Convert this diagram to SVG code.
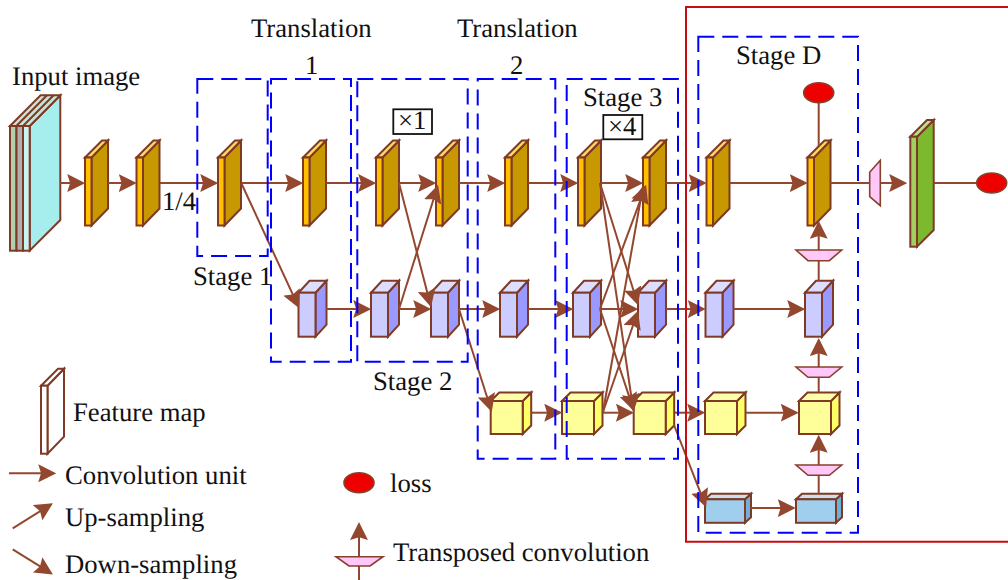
<svg xmlns="http://www.w3.org/2000/svg" width="1008" height="580" viewBox="0 0 1008 580">
<style>
text{font-family:"Liberation Serif","Times New Roman",serif;font-size:26.7px;fill:#111;text-rendering:geometricPrecision}
.s{stroke:#7f3a25;stroke-width:2;stroke-linejoin:miter}
.c{fill:none;stroke:#94472f;stroke-width:2}
.a{marker-end:url(#h)}
.f{fill:none;stroke:#0000ff;stroke-width:2;stroke-dasharray:16 8}
.l{fill:#ee0000;stroke:#86402c;stroke-width:1.6}
.t{fill:#ffc8f8;stroke:#86402c;stroke-width:1.6}
.b{fill:#fff;stroke:#111;stroke-width:1.8}
</style>
<defs>
<marker id="h" markerUnits="userSpaceOnUse" markerWidth="18" markerHeight="18" refX="14" refY="8" orient="auto" viewBox="0 0 16 16"><path d="M0,0 L16,8 L0,16 L2.5,8 Z" fill="#94472f"/></marker>
<g id="plate" class="s"><polygon points="6.5,0 23,-17 23,51 6.5,68" fill="#c89800"/><polygon points="0,0 17,-17 23,-17 6.5,0" fill="#ffd966"/><rect width="6.5" height="68" fill="#ffc000"/></g>
<g id="blue" class="s"><polygon points="17,0 28,-12 28,32 17,44" fill="#9999ff"/><polygon points="0,0 11,-12 28,-12 17,0" fill="#ddddff"/><rect width="17" height="44" fill="#ccccff"/></g>
<g id="yellow" class="s"><polygon points="32,0 40.5,-8.5 40.5,24.5 32,33" fill="#ffff66"/><polygon points="0,0 8.5,-8.5 40.5,-8.5 32,0" fill="#ffffaa"/><rect width="32" height="33" fill="#ffff99"/></g>
<g id="sky" class="s"><polygon points="40,0 46,-5.5 46,18 40,23.5" fill="#70b0d8"/><polygon points="0,0 6,-5.5 46,-5.5 40,0" fill="#c8e0f0"/><rect width="40" height="23.5" fill="#a0cfee"/></g>
</defs>
<g id="input-image" class="s"><polygon points="29.7,126 60.3,95.3 60.3,220 29.7,250.7" fill="#a6eeee"/><polygon points="10,126 40.6,95.3 60.3,95.3 29.7,126" fill="#c8e4d8"/><path d="M16.3,126 L47,95.3 M23,126 L53.6,95.3" fill="none"/><rect x="10" y="126" width="6.5" height="124.700" fill="#b0d0b0"/><rect x="16.500" y="126" width="6.500" height="124.700" fill="#b0b0b0"/><rect x="23" y="126" width="6.700" height="124.700" fill="#c8f4f4"/></g>
<g id="p1"><use href="#plate" x="85" y="157.500"/></g>
<g id="p2"><use href="#plate" x="136.500" y="157.500"/></g>
<g id="p3"><use href="#plate" x="218" y="157.500"/></g>
<g id="p4"><use href="#plate" x="303" y="157.500"/></g>
<g id="p5"><use href="#plate" x="376" y="157.500"/></g>
<g id="p6"><use href="#plate" x="436" y="157.500"/></g>
<g id="p7"><use href="#plate" x="505" y="157.500"/></g>
<g id="p8"><use href="#plate" x="578" y="157.500"/></g>
<g id="p9"><use href="#plate" x="643" y="157.500"/></g>
<g id="p10"><use href="#plate" x="706.500" y="157.500"/></g>
<g id="p11"><use href="#plate" x="807.500" y="157.500"/></g>
<g id="b1"><use href="#blue" x="298.500" y="292.700"/></g>
<g id="b2"><use href="#blue" x="371" y="292.700"/></g>
<g id="b3"><use href="#blue" x="431" y="292.700"/></g>
<g id="b4"><use href="#blue" x="500" y="292.700"/></g>
<g id="b5"><use href="#blue" x="573" y="292.700"/></g>
<g id="b6"><use href="#blue" x="638" y="292.700"/></g>
<g id="b7"><use href="#blue" x="705.500" y="292.700"/></g>
<g id="b8"><use href="#blue" x="805" y="292.700"/></g>
<g id="y1"><use href="#yellow" x="490.700" y="401"/></g>
<g id="y2"><use href="#yellow" x="562" y="401"/></g>
<g id="y3"><use href="#yellow" x="633.700" y="401"/></g>
<g id="y4"><use href="#yellow" x="705" y="401"/></g>
<g id="y5"><use href="#yellow" x="799" y="401"/></g>
<g id="s1"><use href="#sky" x="705" y="499.300"/></g>
<g id="s2"><use href="#sky" x="796" y="499.300"/></g>
<g id="output" class="s"><polygon points="917,136.700 933.700,120 933.700,230 917,246.700" fill="#7cb92f"/><polygon points="910.300,136.700 927,120 933.700,120 917,136.700" fill="#c0e090"/><rect x="910.300" y="136.700" width="6.700" height="110" fill="#a0d060"/></g>
<g id="legend-map" class="s"><polygon points="47.500,385.700 64,368.700 64,436.700 47.500,453.700" fill="#fff"/><polygon points="41,385.700 58,368.700 64,368.700 47.500,385.700" fill="#fff"/><rect x="41" y="385.700" width="6.500" height="68" fill="#fff"/></g>
<g id="connectors">
<path class="c a" d="M60,183H83"/><path class="c a" d="M108,183H134.500"/><path class="c a" d="M160,183H216"/><path class="c a" d="M241,183H301"/><path class="c a" d="M326,183H374"/><path class="c a" d="M399,183H434"/><path class="c a" d="M459,183H503"/><path class="c a" d="M528,183H576"/><path class="c a" d="M601,183H641"/><path class="c a" d="M666,183H704.500"/><path class="c a" d="M729.500,183H805.500"/><path class="c" d="M830,183H870"/><path class="c a" d="M880,183H905"/><path class="c" d="M934,183H977"/>
<path class="c a" d="M326,309H369"/><path class="c a" d="M399,309H429"/><path class="c a" d="M459,309H498"/><path class="c a" d="M528,309H571"/><path class="c a" d="M601,309H636"/><path class="c a" d="M666,309H703.500"/><path class="c a" d="M733,309H803"/>
<path class="c a" d="M531,412.700H560"/><path class="c a" d="M603,412.700H631.700"/><path class="c a" d="M675,412.700H703"/><path class="c a" d="M746,412.700H796.500"/><path class="c a" d="M751,508H793.500"/>
<path class="c a" d="M241.700,184L298.200,306.200"/><path class="c a" d="M399,183L430.500,305"/><path class="c a" d="M399,309L437.400,187"/><path class="c a" d="M459,309L491.100,409.800"/><path class="c a" d="M600,183L637.400,303"/><path class="c a" d="M600,183L633.200,409.500"/><path class="c a" d="M600,309L645.300,186.900"/><path class="c a" d="M600,309L633.400,409.100"/><path class="c a" d="M603,412L642.700,188"/><path class="c a" d="M603,412L637.300,313"/><path class="c a" d="M674,425L705.300,505.100"/>
<path class="c" d="M818.700,102V146"/><path class="c a" d="M818.700,281V223"/><path class="c a" d="M818.700,392.700V340.300"/><path class="c a" d="M818.700,494V437"/>
<path class="c a" d="M9,473.300H54"/><path class="c a" d="M12.700,528.300L51,504.400"/><path class="c a" d="M12.700,549.300L51,573.200"/><path class="c a" d="M359,580V524.300"/>
</g>
<g id="tc1"><polygon class="t" points="796,250 841.700,250 829.300,260.700 808,260.700"/></g>
<g id="tc2"><polygon class="t" points="796,367 841.700,367 829.300,377.300 808,377.300"/></g>
<g id="tc3"><polygon class="t" points="796,465 841.700,465 829.300,475.300 808,475.300"/></g>
<g id="tc4"><polygon class="t" points="869.700,172.300 880.300,160.300 880.300,205.700 869.700,196.700"/></g>
<g id="tc-legend"><polygon class="t" points="336,556.700 383,556.700 370,566 349,566"/></g>
<g id="loss1"><ellipse class="l" cx="818.700" cy="92.700" rx="15" ry="10"/></g>
<g id="loss2"><ellipse class="l" cx="991.700" cy="183" rx="15" ry="10"/></g>
<g id="loss-legend"><ellipse class="l" cx="359" cy="482.700" rx="15" ry="10"/></g>
<g id="frames">
<rect x="197.300" y="79" width="70.400" height="177" class="f"/>
<rect x="271" y="79" width="80" height="282.700" class="f"/>
<rect x="357.300" y="79" width="110.400" height="282.700" class="f"/>
<rect x="477.700" y="79" width="77.600" height="379.700" class="f"/>
<rect x="566.700" y="79" width="111.300" height="379.700" class="f"/>
<rect x="698.300" y="36.700" width="159.700" height="496" class="f"/>
<path d="M1008,7H686V541.700H1008" fill="none" stroke="#c80c14" stroke-width="2"/>
</g>
<g id="multipliers"><rect class="b" x="393.300" y="109.300" width="38.700" height="24.700"/><rect class="b" x="603.300" y="115" width="39" height="24.300"/></g>
<g id="labels">
<text x="12" y="85.300">Input image</text>
<text x="251" y="36.500">Translation</text><text x="305" y="73.500">1</text>
<text x="457" y="36.500">Translation</text><text x="510" y="73.500">2</text>
<text x="162" y="210">1/4</text>
<text x="193" y="285">Stage 1</text>
<text x="373" y="390">Stage 2</text>
<text x="583" y="106">Stage 3</text>
<text x="736" y="64">Stage D</text>
<text x="398" y="128.500">×1</text>
<text x="608" y="134.500">×4</text>
<text x="73" y="421">Feature map</text>
<text x="65" y="484">Convolution unit</text>
<text x="65" y="526">Up-sampling</text>
<text x="65" y="573">Down-sampling</text>
<text x="390" y="492">loss</text>
<text x="393" y="561">Transposed convolution</text>
</g>
</svg>
